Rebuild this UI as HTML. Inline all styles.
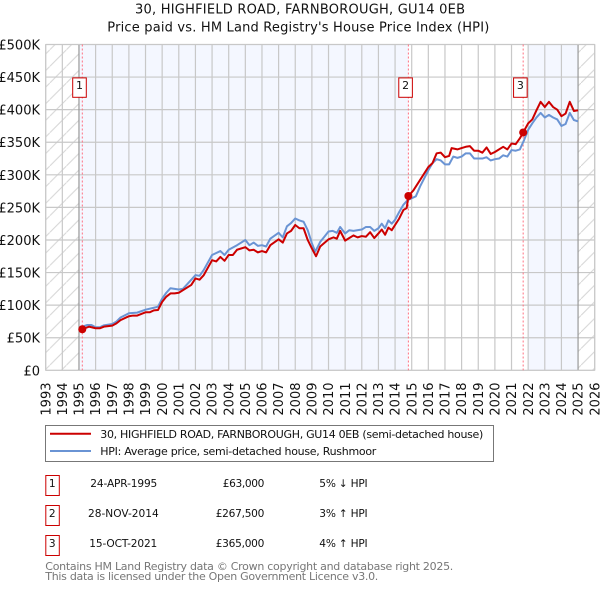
<!DOCTYPE html>
<html>
<head>
<meta charset="utf-8">
<title>30, Highfield Road, Farnborough price chart</title>
<style>
html,body{margin:0;padding:0;background:#fff;}
body{width:600px;height:590px;overflow:hidden;position:relative;font-family:"DejaVu Sans","Liberation Sans",sans-serif;}
svg{position:absolute;left:0;top:0;}
text{font-family:"DejaVu Sans","Liberation Sans",sans-serif;}
</style>
</head>
<body>
<svg id="chart" xmlns="http://www.w3.org/2000/svg" width="600" height="590" viewBox="0 0 600 590">
  <defs>
    <pattern id="hatch" patternUnits="userSpaceOnUse" width="16.6" height="16.6">
      <path d="M-2 18.6 L18.6 -2" stroke="#d4d4d4" stroke-width="1" fill="none"/>
    </pattern>
  </defs>
  <text x="300" y="13.500" font-size="13" text-anchor="middle" fill="#111" textLength="330" lengthAdjust="spacing">30, HIGHFIELD ROAD, FARNBOROUGH, GU14 0EB</text>
  <text x="298.300" y="31.500" font-size="13" text-anchor="middle" fill="#111" textLength="382" lengthAdjust="spacing">Price paid vs. HM Land Registry's House Price Index (HPI)</text>
  <g id="plot"></g>

  <g>
    <rect x="45.500" y="425.500" width="448" height="36" fill="#fff" stroke="#777" stroke-width="1"/>
    <line x1="50" x2="91" y1="433.700" y2="433.700" stroke="#cc0000" stroke-width="2"/>
    <text x="100.300" y="438" font-size="11" fill="#111" textLength="383" lengthAdjust="spacing">30, HIGHFIELD ROAD, FARNBOROUGH, GU14 0EB (semi-detached house)</text>
    <line x1="50" x2="91" y1="451" y2="451" stroke="#6a94d4" stroke-width="2"/>
    <text x="100.300" y="455" font-size="11" fill="#111" textLength="276" lengthAdjust="spacing">HPI: Average price, semi-detached house, Rushmoor</text>
  </g>

  <g font-size="10.600" fill="#111">
    <rect x="45.800" y="475.500" width="13.500" height="20" fill="#fff" stroke="#cc0000" stroke-width="1"/>
    <text x="52.300" y="487" text-anchor="middle">1</text>
    <text x="90.300" y="487" textLength="67" lengthAdjust="spacing">24-APR-1995</text>
    <text x="222.700" y="487" textLength="41.700" lengthAdjust="spacing">£63,000</text>
    <text x="319.300" y="487" textLength="48.300" lengthAdjust="spacing">5% ↓ HPI</text>

    <rect x="45.800" y="505.500" width="13.500" height="20" fill="#fff" stroke="#cc0000" stroke-width="1"/>
    <text x="52.300" y="517" text-anchor="middle">2</text>
    <text x="88" y="517" textLength="70.700" lengthAdjust="spacing">28-NOV-2014</text>
    <text x="215.700" y="517" textLength="48.700" lengthAdjust="spacing">£267,500</text>
    <text x="319.300" y="517" textLength="48.300" lengthAdjust="spacing">3% ↑ HPI</text>

    <rect x="45.800" y="535.500" width="13.500" height="20" fill="#fff" stroke="#cc0000" stroke-width="1"/>
    <text x="52.300" y="547" text-anchor="middle">3</text>
    <text x="89.300" y="547" textLength="68" lengthAdjust="spacing">15-OCT-2021</text>
    <text x="215.700" y="547" textLength="48.700" lengthAdjust="spacing">£365,000</text>
    <text x="319.300" y="547" textLength="48.300" lengthAdjust="spacing">4% ↑ HPI</text>
  </g>

  <text x="45.300" y="570" font-size="11" fill="#777" textLength="408" lengthAdjust="spacing">Contains HM Land Registry data © Crown copyright and database right 2025.</text>
  <text x="45.300" y="580" font-size="11" fill="#777" textLength="333" lengthAdjust="spacing">This data is licensed under the Open Government Licence v3.0.</text>
</svg>
<script>
const yTickValues = [0, 50, 100, 150, 200, 250, 300, 350, 400, 450, 500];
const yTickLabels = ["£0", "£50K", "£100K", "£150K", "£200K", "£250K", "£300K", "£350K", "£400K", "£450K", "£500K"];
const xTickYears = [1993, 1994, 1995, 1996, 1997, 1998, 1999, 2000, 2001, 2002, 2003, 2004, 2005, 2006, 2007, 2008, 2009, 2010, 2011, 2012, 2013, 2014, 2015, 2016, 2017, 2018, 2019, 2020, 2021, 2022, 2023, 2024, 2025, 2026];

const hpiYears = [1995.2, 1995.5, 1995.75, 1996, 1996.25, 1996.5, 1997, 1997.25, 1997.5, 1998, 1998.5, 1999, 1999.5, 1999.75, 2000, 2000.25, 2000.5, 2001, 2001.25, 2001.5, 2002, 2002.25, 2002.5, 2003, 2003.5, 2003.75, 2004, 2004.5, 2005, 2005.25, 2005.5, 2005.75, 2006, 2006.25, 2006.5, 2007, 2007.25, 2007.5, 2007.75, 2008, 2008.25, 2008.5, 2008.75, 2009, 2009.2, 2009.5, 2009.75, 2010, 2010.25, 2010.5, 2010.7, 2011, 2011.25, 2011.5, 2012, 2012.25, 2012.5, 2012.75, 2013, 2013.2, 2013.4, 2013.6, 2013.8, 2014, 2014.25, 2014.5, 2014.75, 2015, 2015.25, 2015.5, 2016, 2016.25, 2016.5, 2016.75, 2017, 2017.25, 2017.5, 2017.75, 2018, 2018.25, 2018.5, 2018.75, 2019, 2019.25, 2019.5, 2019.75, 2020, 2020.25, 2020.5, 2020.75, 2021, 2021.25, 2021.5, 2021.75, 2022, 2022.25, 2022.5, 2022.75, 2023, 2023.25, 2023.5, 2023.75, 2024, 2024.25, 2024.5, 2024.75, 2025];
const hpiValues = [67, 69.5, 69.5, 66, 66, 69, 71, 74.7, 81, 87.5, 88.5, 93, 96, 97.6, 110, 119, 126, 124, 125, 132, 146, 145, 154, 177, 183, 177, 185, 192, 200, 192, 196, 191, 192, 190, 202, 211, 204, 221, 226, 233, 230, 228, 215, 195, 182, 197, 205, 213, 214, 211, 220, 210, 215, 214, 216, 220, 220, 214, 218, 225, 218, 230, 225, 231, 243, 254, 261, 264, 267, 282, 307, 318, 324, 322, 316, 316, 328, 326, 328, 333, 333, 325, 325, 325, 327, 322, 324, 325, 330, 328, 338, 337, 339, 353, 369, 379, 388, 395, 388, 392, 388, 385, 375, 378, 395, 384, 382];

const priceYears = [1995.2, 1995.6, 1996, 1996.25, 1996.5, 1997, 1997.25, 1997.5, 1998, 1998.25, 1998.5, 1999, 1999.25, 1999.5, 1999.75, 2000, 2000.25, 2000.5, 2000.75, 2001, 2001.5, 2001.75, 2002, 2002.25, 2002.5, 2003, 2003.25, 2003.5, 2003.75, 2004, 2004.25, 2004.5, 2005, 2005.25, 2005.5, 2005.75, 2006, 2006.25, 2006.5, 2007, 2007.25, 2007.5, 2007.75, 2008, 2008.25, 2008.5, 2008.75, 2009, 2009.25, 2009.5, 2010, 2010.3, 2010.5, 2010.7, 2011, 2011.25, 2011.5, 2011.75, 2012, 2012.25, 2012.5, 2012.75, 2013, 2013.2, 2013.4, 2013.6, 2013.8, 2014, 2014.25, 2014.5, 2014.7, 2014.8, 2015.1, 2015.5, 2016, 2016.25, 2016.5, 2016.75, 2017, 2017.25, 2017.4, 2017.75, 2018, 2018.25, 2018.5, 2018.75, 2019, 2019.25, 2019.5, 2019.75, 2020, 2020.5, 2020.75, 2021, 2021.25, 2021.5, 2021.7, 2022, 2022.25, 2022.5, 2022.75, 2023, 2023.25, 2023.5, 2023.75, 2024, 2024.25, 2024.5, 2024.75, 2025];
const priceValues = [63, 67, 64.5, 64.5, 67, 68.5, 72, 77, 83, 84, 84, 89, 89, 92, 92.5, 105, 113, 118, 118, 119, 127, 131, 141, 139, 146, 169, 167, 174, 168, 177, 177, 185, 189, 184, 185, 181, 183, 181, 192, 201, 196, 210, 214, 223, 218, 218, 200, 187, 175, 190, 201, 204, 202, 214, 199, 203, 207, 204, 206, 205, 212, 203, 210, 216, 208, 219, 215, 223, 233, 246, 249, 267.5, 276, 292, 312, 318, 333, 334, 327, 329, 341, 339, 341, 343, 344, 337, 337, 334, 342, 332, 335, 343, 339, 348, 347, 356, 365, 379, 385, 399, 412, 404, 412, 404, 400, 390, 394, 412, 398, 399];

const saleYears = [1995.2, 2014.8, 2021.7];
const salePrices = [63, 267.5, 365];
const saleLabels = ["1", "2", "3"];

const NS = "http://www.w3.org/2000/svg";
const plot = document.getElementById("plot");
const plotLeft = 45.7, plotRight = 594.7, plotTop = 44.5, plotBottom = 370.3;
const xMin = 1993, xMax = 2026, yMax = 500;
function xScale(year) { return plotLeft + (year - xMin) / (xMax - xMin) * (plotRight - plotLeft); }
function yScale(value) { return plotBottom - value / yMax * (plotBottom - plotTop); }
function make(tag, attrs, parent) {
  const el = document.createElementNS(NS, tag);
  for (const k in attrs) el.setAttribute(k, attrs[k]);
  (parent || plot).appendChild(el);
  return el;
}
function linePoints(years, values) {
  return years.map(function (y, i) { return xScale(y).toFixed(2) + "," + yScale(values[i]).toFixed(2); }).join(" ");
}

const bandEdges = [[1995, saleYears[1]], [2022, 2025]];
const hatchLeft = make("rect", { x: plotLeft, y: plotTop, width: xScale(1995) - plotLeft, height: plotBottom - plotTop, fill: "url(#hatch)" });


const hatchRight = make("rect", { x: xScale(2025), y: plotTop, width: plotRight - xScale(2025), height: plotBottom - plotTop, fill: "url(#hatch)" });



bandEdges.forEach(function (b) {
  const band = make("rect", { x: xScale(b[0]), y: plotTop, width: xScale(b[1]) - xScale(b[0]), height: plotBottom - plotTop, fill: "#f4f7ff" });
  
  
});

yTickValues.forEach(function (v, i) {
  const g = make("line", { x1: plotLeft, x2: plotRight, y1: yScale(v), y2: yScale(v), stroke: "#c8c8c8", "stroke-width": 1.2 });
  
  
  const t = make("text", { x: 40, y: yScale(v) + 5, "text-anchor": "end", "font-size": 13, fill: "#111" });
  
  
  t.textContent = yTickLabels[i];
});

xTickYears.forEach(function (yr) {
  const edge = yr === 1995 || yr === 2025;
  const g = make("line", { x1: xScale(yr), x2: xScale(yr), y1: plotTop, y2: plotBottom, stroke: edge ? "#999999" : "#c8c8c8", "stroke-width": 1.2 });
  
  
  const px = xScale(yr) + 4.6;
  const t = make("text", { x: px, y: 382.5, "text-anchor": "end", "font-size": 13, fill: "#111", transform: "rotate(-90 " + px + " 382.5)" });
  
  
  t.textContent = String(yr);
});

const frame = make("rect", { x: plotLeft, y: plotTop, width: plotRight - plotLeft, height: plotBottom - plotTop, fill: "none", stroke: "#c8c8c8", "stroke-width": 1 });



saleYears.forEach(function (yr) {
  const d = make("line", { x1: xScale(yr), x2: xScale(yr), y1: plotTop, y2: plotBottom, stroke: "#ff7080", "stroke-width": 1, "stroke-dasharray": "2 2" });
  
  
});

const hpiLine = make("polyline", { points: linePoints(hpiYears, hpiValues), fill: "none", stroke: "#6a94d4", "stroke-width": 2, "stroke-linejoin": "round" });


const priceLine = make("polyline", { points: linePoints(priceYears, priceValues), fill: "none", stroke: "#cc0000", "stroke-width": 2, "stroke-linejoin": "round" });



saleYears.forEach(function (yr, i) {
  const dot = make("circle", { cx: xScale(yr), cy: yScale(salePrices[i]), r: 4, fill: "#cc0000" });
  
  
  const box = make("rect", { x: xScale(yr) - 9.6, y: 77.9, width: 13.6, height: 19.4, fill: "#fff", stroke: "#cc0000", "stroke-width": 1 });
  
  
  const label = make("text", { x: xScale(yr) - 2.8, y: 89, "text-anchor": "middle", "font-size": 11, fill: "#111" });
  
  
  label.textContent = saleLabels[i];
});
</script>
</body>
</html>
